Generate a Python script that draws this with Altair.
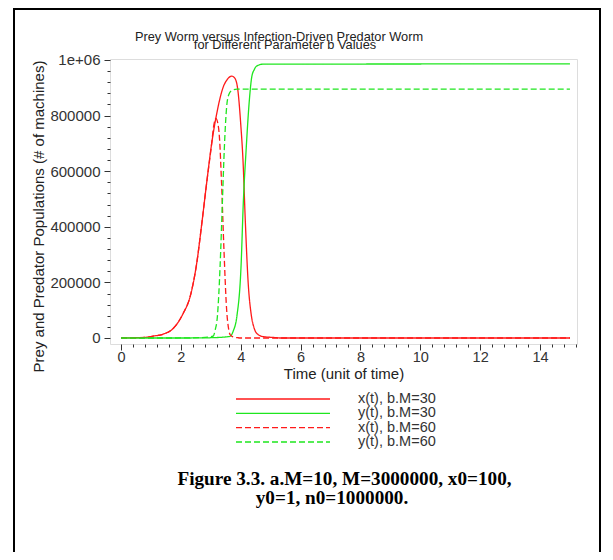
import altair as alt
import pandas as pd

# ---------------- data ----------------
series_names = ["x(t), b.M=30", "y(t), b.M=30", "x(t), b.M=60", "y(t), b.M=60"]
series_colors = ["#ff1a1a", "#1ee61e", "#ff1a1a", "#1ee61e"]
series_dashes = [[1, 0], [1, 0], [6, 3], [6, 3]]

# prey x(t), b.M=30
t_x30 = [0.0, 0.8, 1.08, 1.41, 1.75, 2.08, 2.31, 2.53, 2.70, 2.86, 3.03, 3.20, 3.42,
         3.55, 3.70, 3.80, 3.90, 4.00, 4.08, 4.15, 4.25, 4.35, 4.45, 4.55, 4.75, 5.00,
         5.20, 5.30, 15.0]
v_x30 = [100, 2000, 7000, 14000, 35000, 89000, 149000, 269000, 412000, 556000, 700000,
         808000, 904000, 930000, 942000, 935000, 895000, 770000, 630000, 430000, 197000,
         85000, 35000, 15000, 5000, 2500, 1000, 0, 0]

# predator y(t), b.M=30
t_y30 = [0.0, 2.5, 3.0, 3.4, 3.64, 3.75, 3.87, 4.01, 4.09, 4.18, 4.28, 4.37, 4.45, 4.53,
         4.75, 15.0]
v_y30 = [1, 100, 1000, 3000, 6000, 25000, 77000, 256000, 496000, 676000, 844000, 940000,
         965000, 978000, 985000, 986000]

# prey x(t), b.M=60
t_x60 = [0.0, 0.8, 1.08, 1.41, 1.75, 2.08, 2.31, 2.53, 2.70, 2.86, 3.03, 3.10, 3.17,
         3.23, 3.29, 3.36, 3.44, 3.53, 3.60, 3.65, 3.75, 3.90, 4.00, 15.0]
v_x60 = [100, 2000, 7000, 14000, 35000, 89000, 149000, 269000, 412000, 556000, 700000,
         765000, 790000, 775000, 720000, 556000, 317000, 101000, 30000, 11000, 4000,
         1000, 0, 0]

# predator y(t), b.M=60
t_y60 = [0.0, 2.0, 2.6, 2.9, 3.08, 3.15, 3.22, 3.31, 3.39, 3.45, 3.53, 3.60, 3.70, 3.87,
         15.0]
v_y60 = [1, 100, 1000, 3000, 7000, 30000, 77000, 256000, 496000, 676000, 832000, 875000,
         890000, 895000, 895000]

title_lines = ["Prey Worm versus Infection-Driven Predator Worm",
               "for Different Parameter b Values"]
x_title = "Time (unit of time)"
y_title = "Prey and Predator Populations (# of machines)"
caption_lines = ["Figure 3.3. a.M=10, M=3000000, x0=100,", "y0=1, n0=1000000."]

x_ticks = [round(0.4 * i, 1) for i in range(39)]
y_ticks = [40000 * i for i in range(26)]

# ---------------- frames ----------------
frames = []
for name, ts, vs in [(series_names[0], t_x30, v_x30), (series_names[1], t_y30, v_y30),
                     (series_names[2], t_x60, v_x60), (series_names[3], t_y60, v_y60)]:
    frames.append(pd.DataFrame({"series": name, "t": ts, "v": vs}))
df = pd.concat(frames, ignore_index=True)
legend_df = pd.DataFrame({"series": series_names})
caption_df = pd.DataFrame({"caption": caption_lines})
title_df = pd.DataFrame({"title": title_lines})
border_df = pd.DataFrame({"k": [0]})

FONT = "Liberation Sans"
color_scale = alt.Scale(domain=series_names, range=series_colors)
dash_scale = alt.Scale(domain=series_names, range=series_dashes)

x_major = "abs(datum.value/2 - round(datum.value/2)) < 0.01"
y_major = "datum.value % 200000 == 0"

lines = alt.Chart(df).mark_line(strokeWidth=1.3, clip=True, interpolate="monotone").encode(
    x=alt.X("t:Q",
            scale=alt.Scale(domain=[-0.3675, 15.2355], nice=False, zero=False),
            axis=alt.Axis(values=x_ticks, grid=False, domain=False,
                          labelExpr=f"{x_major} ? format(datum.value, 'd') : ''",
                          tickSize={"condition": {"test": x_major, "value": 6}, "value": 3},
                          labelOverlap=False, labelFont=FONT, labelFontSize=14.5,
                          labelColor="#333", labelPadding=0, tickColor="#333",
                          title=x_title, titleFont=FONT, titleFontSize=15,
                          titleFontWeight="normal", titleColor="#222",
                          titleY=29.5, titleBaseline="middle")),
    y=alt.Y("v:Q",
            scale=alt.Scale(domain=[-21583, 1003597], nice=False, zero=False),
            axis=alt.Axis(values=y_ticks, grid=False, domain=False,
                          labelExpr=f"datum.value == 1000000 ? '1e+06' : ({y_major} ? format(datum.value, 'd') : '')",
                          tickSize={"condition": {"test": y_major, "value": 6}, "value": 3},
                          labelOverlap=False, labelFont=FONT, labelFontSize=15,
                          labelColor="#333", labelPadding=4, tickColor="#333",
                          title=y_title, titleFont=FONT, titleFontSize=15,
                          titleFontWeight="normal", titleColor="#222",
                          titleX=-72, titleY=157, titleAngle=270,
                          titleAlign="center", titleBaseline="middle")),
    color=alt.Color("series:N", scale=color_scale, legend=None),
    strokeDash=alt.StrokeDash("series:N", scale=dash_scale, legend=None),
)

legend_y = alt.Y("series:N",
                 scale=alt.Scale(type="point", domain=series_names, range=[340, 383], padding=0),
                 axis=None)

legend_rules = alt.Chart(legend_df).mark_rule(strokeWidth=1.3).encode(
    x=alt.value(126), x2=alt.value(220), y=legend_y,
    color=alt.Color("series:N", scale=color_scale, legend=None),
    strokeDash=alt.StrokeDash("series:N", scale=dash_scale, legend=None),
)

legend_text = alt.Chart(legend_df).mark_text(
    align="left", baseline="middle", font=FONT, fontSize=14.5, color="#333"
).encode(x=alt.value(248), y=legend_y, text="series:N")

caption = alt.Chart(caption_df).mark_text(
    align="center", baseline="alphabetic", font="Liberation Serif", fontSize=19.2,
    fontWeight="bold", color="black"
).encode(
    x=alt.X("caption:N",
            scale=alt.Scale(type="point", domain=caption_lines, range=[234.5, 222], padding=0),
            axis=None),
    y=alt.Y("caption:N",
            scale=alt.Scale(type="point", domain=caption_lines, range=[426, 445], padding=0),
            axis=None),
    text="caption:N",
)

title = alt.Chart(title_df).mark_text(
    align="center", baseline="alphabetic", font=FONT, fontSize=12.8, color="#222"
).encode(
    x=alt.X("title:N",
            scale=alt.Scale(type="point", domain=title_lines, range=[169, 175], padding=0),
            axis=None),
    y=alt.Y("title:N",
            scale=alt.Scale(type="point", domain=title_lines, range=[-18.3, -9.7], padding=0),
            axis=None),
    text="title:N",
)

border = alt.Chart(border_df).mark_rect(
    stroke="black", strokeWidth=2, fillOpacity=0
).encode(x=alt.value(-96), x2=alt.value(490), y=alt.value(-50), y2=alt.value(520))

chart = alt.layer(border, lines, legend_rules, legend_text, caption, title).resolve_scale(
    x="independent", y="independent"
).properties(
    width=467, height=285,
    padding={"left": 102, "top": 51, "right": 28, "bottom": 208},
    autosize=alt.AutoSizeParams(type="none"),
).configure_view(stroke="#5a5a5a", strokeWidth=1.5).configure(background="white")

chart.save("out.html", embed_options={"renderer": "svg", "actions": False})
